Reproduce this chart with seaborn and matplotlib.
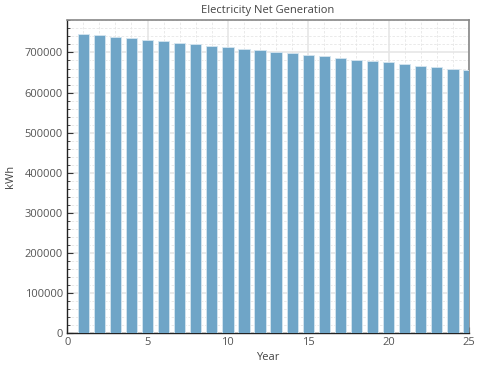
import numpy as np
import pandas as pd
import matplotlib
matplotlib.use("Agg")
import matplotlib.pyplot as plt
from matplotlib.ticker import MultipleLocator
import seaborn as sns

years = list(range(1, 26))
kwh = [745800, 742500, 738300, 735000, 730800, 727500, 724200, 720000,
       715800, 712500, 708300, 705000, 700800, 697500, 693300, 690000,
       685800, 681700, 678300, 675000, 670800, 666700, 663300, 660000, 655800]

df = pd.DataFrame({"Year": years, "kWh": kwh})

sns.set_style("white")
plt.rcParams['font.family'] = ['Open Sans', 'DejaVu Sans']

fig = plt.figure(figsize=(4.8, 3.7), dpi=100)
ax = fig.add_axes([0.14, 0.1, 0.837, 0.847])

sns.barplot(data=df, x="Year", y="kWh", native_scale=True, width=0.7,
            color="#6fa5c7", saturation=1, edgecolor="#d6e6f0", linewidth=0.6,
            ax=ax, zorder=3)

ax.set_xlim(0, 25)
ax.set_ylim(0, 782000)
ax.xaxis.set_major_locator(MultipleLocator(5))
ax.xaxis.set_minor_locator(MultipleLocator(1))
ax.yaxis.set_major_locator(MultipleLocator(100000))
ax.yaxis.set_minor_locator(MultipleLocator(20000))
ax.yaxis.set_major_formatter(matplotlib.ticker.FuncFormatter(lambda v, p: f"{int(v)}"))

ax.grid(which="major", color="#e6e6e6", linewidth=1.2, linestyle="-", zorder=0)
ax.grid(which="minor", color="#e6e6e6", linewidth=0.6, linestyle=(0, (3, 2)), zorder=0)
ax.set_axisbelow(True)

ax.tick_params(axis="both", which="major", direction="in", length=4, width=0.8,
               colors="#333333", labelcolor="#555555", labelsize=8, pad=3)
ax.tick_params(axis="both", which="minor", direction="in", length=2, width=0.6, colors="#333333")
ax.tick_params(bottom=True, left=True, which="both")

for s in ["left", "bottom"]:
    ax.spines[s].set_color("#222222")
    ax.spines[s].set_linewidth(1.0)
for s in ["top", "right"]:
    ax.spines[s].set_color("#888888")
    ax.spines[s].set_linewidth(1.2)

ax.set_xlabel("Year", fontsize=8, color="#444444", labelpad=3)
ax.set_ylabel("kWh", fontsize=8, color="#444444", labelpad=6)
ax.set_title("Electricity Net Generation", fontsize=8, color="#444444", pad=5)

fig.savefig("out.png", dpi=100)
